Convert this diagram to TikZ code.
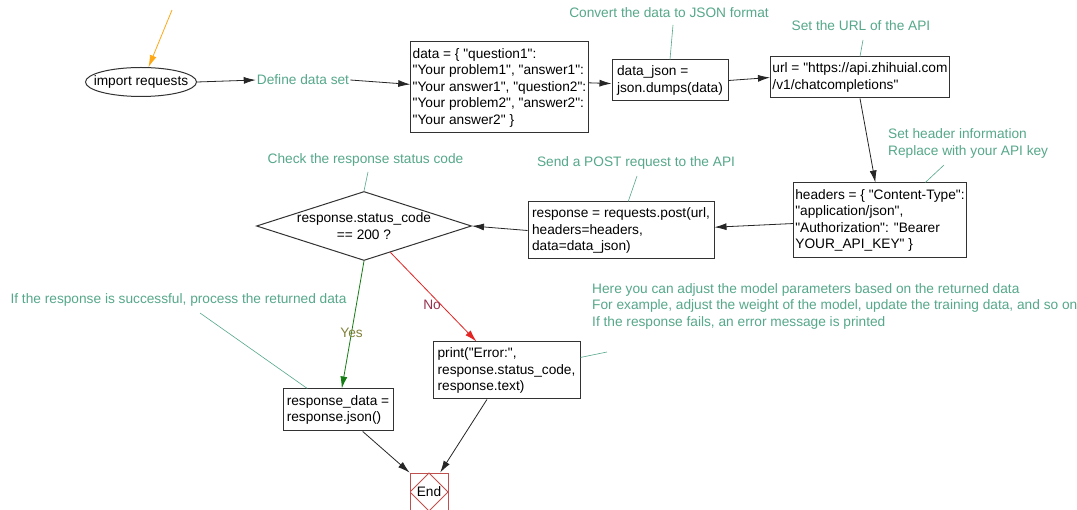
\documentclass[tikz,border=0pt]{standalone}
\usepackage{fontspec}
\setmainfont{Liberation Sans}[Ligatures=TeXOff]
\usetikzlibrary{arrows.meta,shapes.geometric}

\definecolor{notegreen}{RGB}{86,168,138}
\definecolor{boxgray}{RGB}{50,50,50}
\definecolor{yesgreen}{RGB}{20,125,20}
\definecolor{yesolive}{RGB}{130,130,60}
\definecolor{nored}{RGB}{228,35,35}
\definecolor{nomaroon}{RGB}{150,50,80}
\definecolor{startorange}{RGB}{255,168,20}
\definecolor{endred}{RGB}{192,80,77}

\tikzset{
  codebox/.style={draw=boxgray, line width=1pt, rectangle, align=left, inner xsep=2pt, inner ysep=2pt},
  startoval/.style={ellipse, draw=boxgray, line width=1pt, minimum width=111pt, minimum height=29pt, inner sep=0pt},
  decision/.style={diamond, draw=boxgray, line width=1pt, minimum width=215pt, minimum height=69pt, inner sep=0pt},
  endbox/.style={draw=endred, line width=0.8pt, minimum width=38pt, minimum height=38pt, inner sep=0pt,
    path picture={\draw[endred, line width=0.8pt] (path picture bounding box.north) -- (path picture bounding box.east)
      -- (path picture bounding box.south) -- (path picture bounding box.west) -- cycle;}},
  note/.style={text=notegreen, align=left, inner sep=1pt},
  notelink/.style={draw=notegreen, line width=0.6pt},
  flow/.style={draw=black!85, line width=0.8pt, -{Latex[length=12pt,width=7pt]}}
}

\begin{document}
\begin{tikzpicture}[x=1pt, y=-1pt, font=\fontsize{13.7}{16.5}\selectfont]
  \fill[white] (0,0) rectangle (1077,510);
  \useasboundingbox (0,0) rectangle (1077,510);

  % steps
  \node[startoval, label={center:import requests}] (imp) at (141,82) {};
  \node[note] (def) at (303,80) {Define data set};
  \node[codebox, minimum width=177pt, minimum height=91pt] (data) at (499.5,87.5)
    {data = \{ "question1":\\"Your problem1", "answer1":\\"Your answer1", "question2":\\"Your problem2", "answer2":\\"Your answer2" \}};
  \node[codebox, minimum width=116pt, minimum height=41pt] (json) at (670,80.5) {data\_json =\\json.dumps(data)};
  \node[codebox, minimum width=178pt, minimum height=41pt] (url) at (860,77.5) {url = "https://api.zhihuial.com\\/v1/chatcompletions"};
  \node[codebox, minimum width=172pt, minimum height=75pt] (headers) at (880,220.5)
    {headers = \{ "Content-Type":\\"application/json",\\"Authorization": "Bearer\\YOUR\_API\_KEY" \}};
  \node[codebox, minimum width=186pt, minimum height=57pt] (resp) at (621,230.5)
    {response = requests.post(url,\\headers=headers,\\data=data\_json)};
  \node[decision, label={[align=center]center:response.status\_code\\== 200 ?}] (chk) at (364,226) {};
  \node[codebox, minimum width=110pt, minimum height=42pt] (rdata) at (338,410) {response\_data =\\response.json()};
  \node[codebox, minimum width=147pt, minimum height=57pt] (err) at (506.5,370.5)
    {print("Error:",\\response.status\_code,\\response.text)};
  \node[endbox] (fin) at (429,492) {End};

  % notes
  \node[note] (cvtnote) at (669,13) {Convert the data to JSON format};
  \node[note] (urlnote) at (861,26) {Set the URL of the API};
  \node[note, anchor=west] (hdrnote) at (887,143.5) {Set header information\\Replace with your API key};
  \node[note] (postnote) at (636,163) {Send a POST request to the API};
  \node[note] (chknote) at (365.5,160) {Check the response status code};
  \node[note] (oknote) at (178.5,300) {If the response is successful, process the returned data};
  \node[note, anchor=west] (tunenote) at (591,306)
    {Here you can adjust the model parameters based on the returned data\\For example, adjust the weight of the model, update the training data, and so on\\If the response fails, an error message is printed};

  \coordinate (src) at (172,10);
  \coordinate (cvttip) at (673,25);
  \coordinate (urltip) at (863,40);
  \coordinate (hdrtip) at (944,165);
  \coordinate (posttip) at (637,176);
  \coordinate (chktip) at (368,172);
  \coordinate (oktip) at (200,313);
  \coordinate (tunetip) at (607,352);

  % note links
  \draw[notelink] (cvttip) -- (json.north);
  \draw[notelink] (urltip) -- (url.north);
  \draw[notelink] (hdrtip) -- (headers.40);
  \draw[notelink] (posttip) -- (resp.76);
  \draw[notelink] (chktip) -- (chk.north);
  \draw[notelink] (oktip) -- (rdata.145);
  \draw[notelink] (tunetip) -- (err.10);

  % flow
  \draw[flow, draw=startorange] (src) -- (imp.63);
  \draw[flow] (imp.east) -- (def.west);
  \draw[flow] (def.east) -- (data.178);
  \draw[flow] (data.3) -- (json.183);
  \draw[flow] (json.east) -- (url.west);
  \draw[flow] (url.south) -- (headers.97);
  \draw[flow] (headers.182) -- (resp.2);
  \draw[flow] (resp.west) -- (chk.east);
  \draw[flow, draw=yesgreen] (chk.south) -- node[pos=0.56, text=yesolive, inner sep=0pt] {Yes} (rdata.80);
  \draw[flow, draw=nored] (chk.-45) -- node[pos=0.59, anchor=east, text=nomaroon, inner sep=0pt] {No} (err.136);
  \draw[flow] (rdata.-41) -- (fin.north west);
  \draw[flow] (err.-124) -- (fin.60);
\end{tikzpicture}
\end{document}
